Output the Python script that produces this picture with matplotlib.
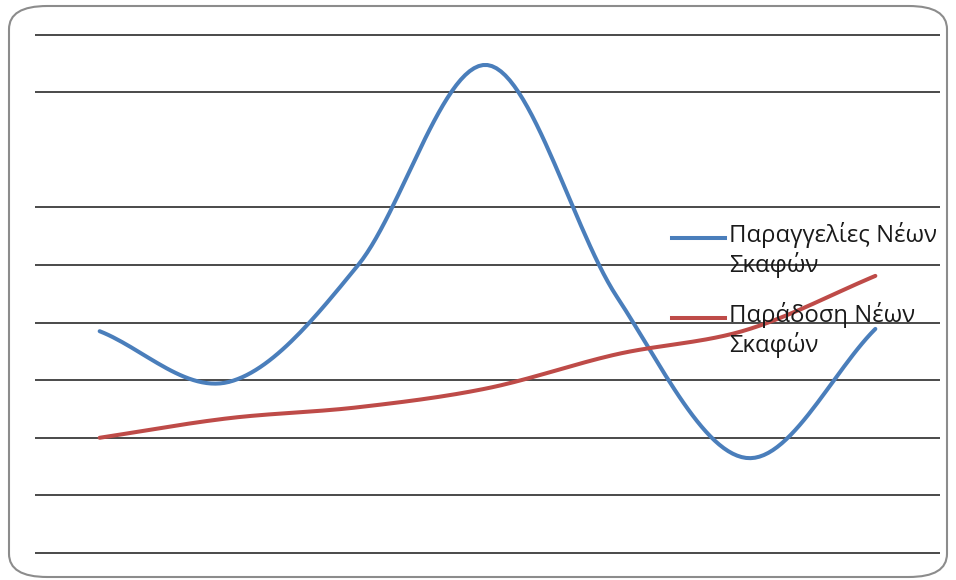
import numpy as np
import matplotlib.pyplot as plt
from matplotlib.patches import FancyBboxPatch
from matplotlib.lines import Line2D

# values (no axis labels in the original)
periods = [0, 1, 2, 3, 4, 5, 6]
orders = [3.85, 2.97, 5.0, 8.47, 4.45, 1.65, 3.89]      # Παραγγελίες Νέων Σκαφών
deliveries = [2.0, 2.34, 2.53, 2.86, 3.45, 3.87, 4.81]   # Παράδοση Νέων Σκαφών
labels = ["Παραγγελίες Νέων\nΣκαφών", "Παράδοση Νέων\nΣκαφών"]
grid_levels = [0, 1, 2, 3, 4, 5, 6, 8, 9]

blue = "#4A7EBB"
red = "#BE4B48"
W, H = 956, 580


def smooth(x, y, n=30):
    # catmull-rom through the points, like the smoothed line in excel
    x = np.asarray(x, float)
    y = np.asarray(y, float)
    px = np.concatenate([[2 * x[0] - x[1]], x, [2 * x[-1] - x[-2]]])
    py = np.concatenate([[2 * y[0] - y[1]], y, [2 * y[-1] - y[-2]]])
    xs, ys = [], []
    t = np.linspace(0, 1, n)
    for i in range(1, len(px) - 2):
        for p, out in ((px, xs), (py, ys)):
            p0, p1, p2, p3 = p[i - 1], p[i], p[i + 1], p[i + 2]
            out.extend(0.5 * (2 * p1 + (-p0 + p2) * t
                              + (2 * p0 - 5 * p1 + 4 * p2 - p3) * t ** 2
                              + (-p0 + 3 * p1 - 3 * p2 + p3) * t ** 3))
    return xs, ys


fig = plt.figure(figsize=(W / 100, H / 100), dpi=100)
plt.rcParams['font.family'] = ['Open Sans', 'DejaVu Sans']

# rounded frame round the chart
frame = FancyBboxPatch((9 / W, 1 - 577 / H), 938 / W, 571 / H,
                       boxstyle="round,pad=0,rounding_size=0.04",
                       transform=fig.transFigure, facecolor="none",
                       edgecolor="#8c8c8c", linewidth=1.5)
fig.add_artist(frame)

ax = fig.add_axes([35 / W, 1 - 557 / H, 905 / W, 527 / H])
ax.set_xlim(-0.5, 6.5)
ax.set_ylim(-4 / 57.6, 9 + 4.5 / 57.6)
ax.axis("off")

for g in grid_levels:
    ax.axhline(g, color="#3c3c3c", linewidth=1.3, zorder=1)

bx, by = smooth(periods, orders)
rx, ry = smooth(periods, deliveries)
ax.plot(bx, by, color=blue, linewidth=2.9, solid_capstyle="round", zorder=3)
ax.plot(rx, ry, color=red, linewidth=2.9, solid_capstyle="round", zorder=3)

# legend, drawn by hand so the key lines sit on the first text line
for lab, col, ly in zip(labels, [blue, red], [238, 318]):
    fig.add_artist(Line2D([672 / W, 725 / W], [1 - ly / H, 1 - ly / H],
                          color=col, linewidth=2.9, transform=fig.transFigure))
    fig.text(729 / W, 1 - (ly - 16) / H, lab, fontsize=17.2, color="#1a1a1a",
             va="top", ha="left", linespacing=1.2)

fig.savefig("out.png", dpi=100)
